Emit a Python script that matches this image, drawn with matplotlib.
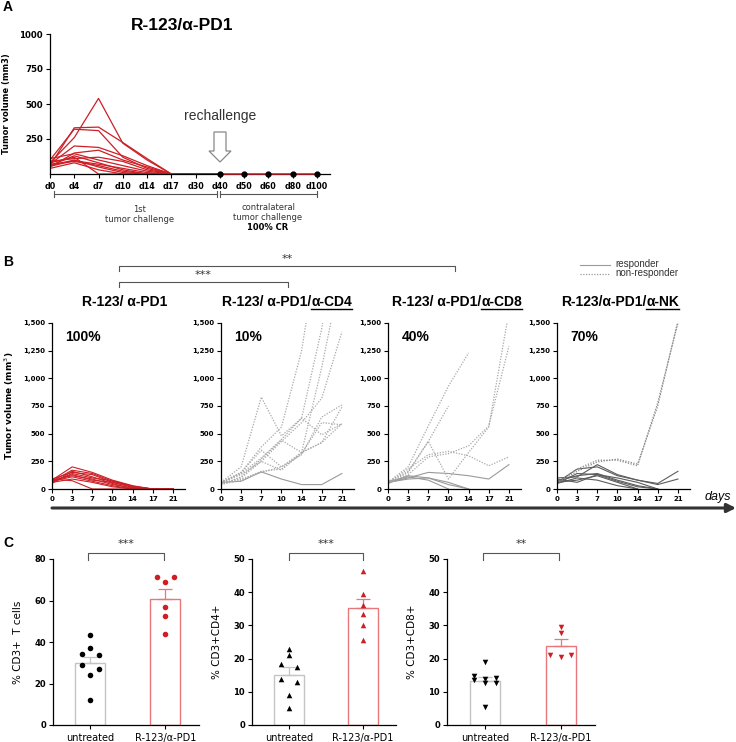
import numpy as np
import matplotlib
matplotlib.use('Agg')
import matplotlib.pyplot as plt
from matplotlib.patches import Polygon
from matplotlib.ticker import FuncFormatter

W, H = 736, 742
RED = '#cc1f26'
LIGHT_RED = '#e8777b'
GREY = '#9a9a9a'
DARK = '#5c5c5c'
TITLE_FONT = 'Liberation Sans'
nan = np.nan

# ---- panel A: tumour volume per mouse (d0 .. d40), then rechallenge
a_days = ['d0', 'd4', 'd7', 'd10', 'd14', 'd17', 'd30', 'd40', 'd50', 'd60', 'd80', 'd100']
a_first = [
    [80, 260, 540, 220, 100, 0, 0, 0],
    [60, 330, 335, 225, 110, 0, 0, 0],
    [100, 320, 310, 120, 40, 0, 0, 0],
    [70, 200, 190, 130, 60, 0, 0, 0],
    [50, 150, 170, 100, 50, 0, 0, 0],
    [90, 110, 120, 90, 30, 0, 0, 0],
    [60, 130, 80, 30, 0, 0, 0, 0],
    [70, 90, 60, 20, 0, 0, 0, 0],
    [40, 80, 30, 0, 0, 0, 0, 0],
    [110, 145, 100, 60, 20, 0, 0, 0],
    [60, 100, 50, 10, 0, 0, 0, 0],
    [80, 120, 0, 0, 0, 0, 0, 0],
    [55, 95, 70, 40, 10, 0, 0, 0],
]
a_rechallenge = [0, 0, 0, 0, 0]

# ---- panel B: tumour volume per mouse, days 0..21
b_days = ['0', '3', '7', '10', '14', '17', '21']
b_pd1 = [
    [80, 200, 150, 80, 30, 0, 0],
    [70, 170, 140, 70, 20, 0, 0],
    [90, 150, 130, 60, 20, 0, 0],
    [60, 140, 100, 75, 25, 0, 0],
    [80, 120, 90, 40, 10, 0, 0],
    [70, 110, 70, 30, 0, 0, 0],
    [60, 90, 60, 20, 0, 0, 0],
    [90, 75, 0, 0, 0, 0, 0],
    [50, 160, 110, 50, 0, 0, 0],
    [70, 130, 80, 60, 15, 0, 0],
]
b_cd4_resp = [
    [60, 70, 155, 90, 40, 40, 140],
]
b_cd4_non = [
    [60, 200, 830, 480, 640, 490, 590],
    [50, 150, 380, 560, 1250, 2400, nan],
    [60, 140, 280, 450, 640, 1450, 2600],
    [50, 100, 250, 430, 600, 820, 1420],
    [40, 110, 270, 440, 330, 1100, 2000],
    [60, 150, 350, 200, 330, 420, 740],
    [40, 80, 160, 180, 320, 600, 580],
    [60, 130, 250, 170, 330, 420, 590],
    [50, 90, 150, 200, 310, 650, 760],
]
b_cd8_resp = [
    [60, 100, 150, 140, 120, 90, 220],
    [50, 120, 100, 60, 0, nan, nan],
    [70, 110, 80, 0, nan, nan, nan],
    [60, 90, 100, 40, 0, nan, nan],
]
b_cd8_non = [
    [60, 200, 570, 930, 1230, nan, nan],
    [60, 160, 430, 750, nan, nan, nan],
    [50, 150, 430, 90, 330, 560, 1600],
    [60, 180, 310, 340, 300, 210, 290],
    [50, 130, 290, 320, 390, 570, 1290],
]
b_nk_resp = [
    [100, 110, 220, 130, 80, 50, 160],
    [60, 180, 200, 120, 80, 40, 90],
    [50, 140, 130, 100, 60, 0, nan],
    [70, 120, 140, 80, 30, 0, nan],
    [60, 80, 120, 60, 0, nan, nan],
    [50, 100, 80, 30, 0, nan, nan],
    [90, 60, 130, 70, 20, 0, nan],
]
b_nk_non = [
    [60, 180, 260, 260, 210, 780, 1500],
    [50, 160, 245, 270, 225, 750, 1520],
]
b_percent = ['100%', '10%', '40%', '70%']

# ---- panel C: flow cytometry per mouse
c_groups = ['untreated', 'R-123/α-PD1']
c_cd3_untr = [43.5, 37, 34, 33.5, 29, 27, 24, 12]
c_cd3_trt = [71.5, 71.5, 69, 57, 52.5, 44]
c_cd4_untr = [23, 21, 18.5, 17.5, 14, 13, 9, 5]
c_cd4_trt = [46.5, 39.5, 36, 33.5, 30, 25.5]
c_cd8_untr = [19, 14.7, 14.2, 13.8, 13.5, 12.6, 12.6, 5.5]
c_cd8_trt = [29.6, 27.6, 21, 20.5, 21]
c_sem_cd3 = [2.8, 4.5]
c_sem_cd4 = [2.2, 2.8]
c_sem_cd8 = [1.2, 2.0]

plt.rcParams['font.family'] = ['DejaVu Sans']
fig = plt.figure(figsize=(W / 100, H / 100), dpi=100)


def px_axes(left, top, right, bottom):
    return fig.add_axes([left / W, 1 - bottom / H, (right - left) / W, (bottom - top) / H])


def style(ax, size=5.5):
    for s in ['top', 'right']:
        ax.spines[s].set_visible(False)
    for s in ['left', 'bottom']:
        ax.spines[s].set_linewidth(0.9)
    ax.tick_params(direction='out', length=3, width=0.8, labelsize=size, pad=2)
    for lab in ax.get_xticklabels() + ax.get_yticklabels():
        lab.set_fontweight('bold')


# ---------------- panel A
axA = px_axes(50, 34, 330, 174)
for v in a_first:
    axA.plot(range(len(v)), v, color=RED, lw=0.9)
axA.plot(range(7, 12), a_rechallenge, color=RED, lw=1.1, marker='o', ms=3.5,
         mfc='black', mec='black', clip_on=False, zorder=5)
axA.set_xlim(0, 11.54)
axA.set_ylim(0, 1000)
axA.set_xticks(range(len(a_days)))
axA.set_xticklabels(a_days)
axA.set_yticks([250, 500, 750, 1000])
style(axA, 6.2)
axA.tick_params(axis='x', pad=3, labelsize=5.8)
axA.set_ylabel('Tumor volume (mm3)', fontsize=6, fontweight='bold', labelpad=6)

# ---------------- panel B
b_sets = [
    (b_pd1, [], RED, RED),
    (b_cd4_resp, b_cd4_non, GREY, '#a8a8a8'),
    (b_cd8_resp, b_cd8_non, GREY, '#a8a8a8'),
    (b_nk_resp, b_nk_non, DARK, '#8a8a8a'),
]
b_lefts = [52, 221, 388, 557]
for i, left in enumerate(b_lefts):
    resp, non, c_resp, c_non = b_sets[i]
    ax = px_axes(left, 323, left + 133, 489)
    for v in resp:
        ax.plot(range(len(v)), v, color=c_resp, lw=0.8)
    for v in non:
        ax.plot(range(len(v)), v, color=c_non, lw=0.9, ls=(0, (1, 1.2)))
    ax.set_xlim(0, 6.6)
    ax.set_ylim(0, 1500)
    ax.set_xticks(range(len(b_days)))
    ax.set_xticklabels(b_days)
    ax.set_yticks(range(0, 1501, 250))
    ax.yaxis.set_major_formatter(FuncFormatter(lambda x, p: f'{x:,.0f}'))
    style(ax, 5)
    ax.text(0.1, 0.915, b_percent[i], transform=ax.transAxes, fontsize=10,
            fontweight='bold', family=TITLE_FONT, va='center')
    if i == 0:
        ax.set_ylabel('Tumor volume (mm$^3$)', fontsize=6.5, fontweight='bold', labelpad=5)

# ---------------- panel C
c_sets = [
    (c_cd3_untr, c_cd3_trt, c_sem_cd3, 'o', 80, 20, '% CD3+  T cells', '***'),
    (c_cd4_untr, c_cd4_trt, c_sem_cd4, '^', 50, 10, '% CD3+CD4+', '***'),
    (c_cd8_untr, c_cd8_trt, c_sem_cd8, 'v', 50, 10, '% CD3+CD8+', '**'),
]
c_lefts = [(53, 199), (252, 396), (447, 595)]


def swarm(vals, gap, step, most=3):
    # spread near-equal values sideways, at most `most` points in one row
    order = np.argsort(vals)[::-1]
    off = np.zeros(len(vals))
    clusters = [[order[0]]]
    for k in order[1:]:
        cur = clusters[-1]
        if abs(vals[cur[-1]] - vals[k]) < gap and len(cur) < most:
            cur.append(k)
        else:
            clusters.append([k])
    slots = {1: [0], 2: [-0.8, 0.8], 3: [-1, 1, 0]}
    for cl in clusters:
        for j, idx in enumerate(cl):
            off[idx] = slots[len(cl)][j] * step
    return off


for i, (l, r) in enumerate(c_lefts):
    untr, trt, sem, mk, ymax, ystep, ylab, stars = c_sets[i]
    ax = px_axes(l, 559, r, 725)
    for j, (vals, ec, pc) in enumerate([(untr, '#c4c4c4', 'black'), (trt, LIGHT_RED, RED)]):
        m = np.mean(vals)
        ax.bar(j, m, width=0.4, facecolor='white', edgecolor=ec, lw=1.0, zorder=1)
        ax.errorbar(j, m, yerr=[[0], [sem[j]]], color=ec, lw=0.9, capsize=5,
                    capthick=0.9, zorder=2)
        off = swarm(np.array(vals, float), ymax * 0.03, 0.14)
        ax.scatter(j + off, vals, marker=mk, s=16, color=pc, zorder=3, lw=0)
    ax.set_xlim(-0.5, 1.45)
    ax.set_ylim(0, ymax)
    ax.set_xticks([0, 1])
    ax.set_xticklabels(c_groups)
    ax.set_yticks(range(0, ymax + 1, ystep))
    style(ax, 6)
    ax.tick_params(axis='x', labelsize=7, pad=3)
    for lab in ax.get_xticklabels():
        lab.set_fontweight('normal')
    ax.set_ylabel(ylab, fontsize=7.5, labelpad=8)

# ---------------- overlay in pixel units for annotations
ov = fig.add_axes([0, 0, 1, 1], zorder=10)
ov.set_xlim(0, W)
ov.set_ylim(H, 0)
ov.axis('off')
ov.patch.set_alpha(0)

for lab, y in [('A', 7), ('B', 262), ('C', 543)]:
    ov.text(3, y, lab, fontsize=10, fontweight='bold', family=TITLE_FONT, va='center')

ov.text(182, 26, 'R-123/α-PD1', fontsize=12.5, fontweight='bold', family=TITLE_FONT,
        ha='center', va='center')
ov.text(220, 116, 'rechallenge', fontsize=10, family=TITLE_FONT, ha='center', va='center',
        color='#333333')
ov.add_patch(Polygon([(214, 132), (226, 132), (226, 151), (231, 151), (220, 162),
                      (209, 151), (214, 151)], closed=True, fc='white', ec='#888888', lw=0.9))


def span(x0, x1, y):
    ov.plot([x0, x1], [y, y], color='#555555', lw=0.8)
    for x in (x0, x1):
        ov.plot([x, x], [y - 3, y + 3], color='#555555', lw=0.8)


span(54, 217, 194)
span(220, 317, 194)
ov.text(140, 209, '1st', fontsize=6, ha='center', va='center', color='#333333')
ov.text(140, 220, 'tumor challenge', fontsize=6, ha='center', va='center', color='#333333')
ov.text(268, 207, 'contralateral', fontsize=6, ha='center', va='center', color='#333333')
ov.text(268, 217, 'tumor challenge', fontsize=6, ha='center', va='center', color='#333333')
ov.text(268, 228, '100% CR', fontsize=6, ha='center', va='center', fontweight='bold')


def bracket(x0, x1, y, drop, label, ly, color='#555555'):
    ov.plot([x0, x0, x1, x1], [y + drop, y, y, y + drop], color=color, lw=0.8)
    ov.text((x0 + x1) / 2, ly, label, fontsize=8, ha='center', va='center', color='#333333')


bracket(119, 455, 266, 5, '**', 259)
bracket(119, 288, 282, 5, '***', 275)

# legend
ov.plot([580, 610], [265, 265], color=GREY, lw=0.8)
ov.plot([580, 610], [274, 274], color=GREY, lw=0.9, ls=(0, (1, 1.2)))
ov.text(615, 264, 'responder', fontsize=7, family=TITLE_FONT, va='center', color='#333333')
ov.text(615, 273, 'non-responder', fontsize=7, family=TITLE_FONT, va='center', color='#333333')

# panel B titles, with underlined depletion antibody
renderer = fig.canvas.get_renderer()
b_titles = [(125, 'R-123/ α-PD1', ''), (287, 'R-123/ α-PD1/', 'α-CD4'),
            (457, 'R-123/ α-PD1/', 'α-CD8'), (620, 'R-123/α-PD1/', 'α-NK')]
for cx, pre, suf in b_titles:
    kw = dict(fontsize=10, fontweight='bold', family=TITLE_FONT, va='baseline')
    t1 = ov.text(cx, 306, pre, ha='left', **kw)
    w1 = t1.get_window_extent(renderer).width
    w2 = 0
    t2 = None
    if suf:
        t2 = ov.text(cx, 306, suf, ha='left', **kw)
        w2 = t2.get_window_extent(renderer).width
    x0 = cx - (w1 + w2) / 2
    t1.set_x(x0)
    if t2 is not None:
        t2.set_x(x0 + w1)
        ov.plot([x0 + w1, x0 + w1 + w2], [308.5, 308.5], color='black', lw=1.0)

# days arrow
ov.annotate('', xy=(736, 508), xytext=(52, 508),
            arrowprops=dict(arrowstyle='-|>', lw=2.2, color='#333333', mutation_scale=13,
                            shrinkA=0, shrinkB=0))
ov.text(718, 497, 'days', fontsize=9, style='italic', family=TITLE_FONT, ha='center',
        va='center')

# panel C brackets
bracket(88, 164, 553, 7, '***', 544)
bracket(289, 363, 553, 7, '***', 544)
bracket(483, 559, 553, 7, '**', 544)

fig.savefig('out.png', dpi=100)
